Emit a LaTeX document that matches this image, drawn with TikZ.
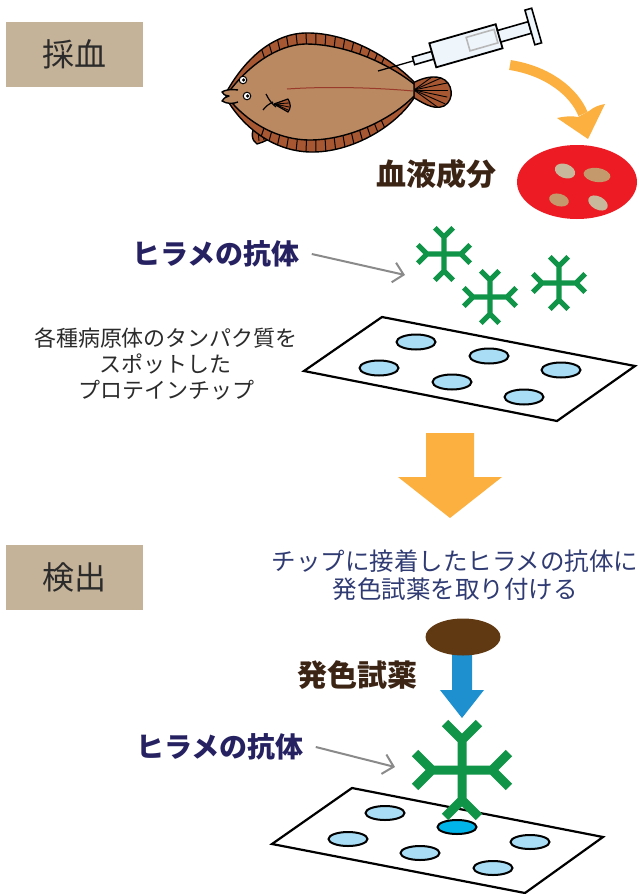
\documentclass[tikz,border=0pt]{standalone}
\usepackage{fontspec}
\newfontfamily\jp{Noto Sans CJK JP}
\usetikzlibrary{arrows.meta}

\definecolor{tanbox}{HTML}{C5B399}
\definecolor{darktext}{HTML}{2B2B2B}
\definecolor{navylabel}{HTML}{262262}
\definecolor{navytext}{HTML}{2F3B72}
\definecolor{browntext}{HTML}{3C2415}
\definecolor{abgreen}{HTML}{109447}
\definecolor{flowarrow}{HTML}{FBB040}
\definecolor{bloodred}{HTML}{ED1C24}
\definecolor{cellbeige}{HTML}{C8B89C}
\definecolor{celltan}{HTML}{C49A6C}
\definecolor{spotblue}{HTML}{A8DDF5}
\definecolor{spotlit}{HTML}{00B4EA}
\definecolor{reagent}{HTML}{603913}
\definecolor{dropblue}{HTML}{1E8FCF}
\definecolor{pointer}{HTML}{8A8A8A}
\definecolor{finbrown}{HTML}{A75732}
\definecolor{bodybrown}{HTML}{BA8861}
\definecolor{lateral}{HTML}{9A3A2A}
\definecolor{barrel}{HTML}{EEF6FC}

% outlines of the flatfish
\newcommand\fishouter{(226,93) .. controls (244,60) and (272,34) .. (305,33) .. controls (350,32) and (393,60) .. (414,82) -- (414,98) .. controls (396,126) and (352,153) .. (310,152) .. controls (272,151) and (242,126) .. (226,98) -- cycle}
\newcommand\fishinner{(228,93) .. controls (247,67) and (276,45) .. (305,44) .. controls (348,44) and (390,65) .. (414,84) -- (414,96) .. controls (393,118) and (350,140) .. (310,140) .. controls (276,140) and (246,121) .. (228,98) -- cycle}
\newcommand\fishtail{(411,84) .. controls (420,79) and (431,75) .. (441,78) .. controls (453,82) and (455,100) .. (444,106) .. controls (433,111) and (420,101) .. (411,96) -- cycle}

\tikzset{
  stepbox/.style={fill=tanbox, draw=none, minimum width=137pt, minimum height=65pt, inner sep=0pt,
    font=\jp\fontsize{32}{38}\selectfont, text=darktext},
  abname/.style={font=\jp\bfseries\fontsize{28}{32}\selectfont, text=navylabel, inner sep=0pt},
  bignote/.style={font=\jp\bfseries\fontsize{30}{34}\selectfont, text=browntext, inner sep=0pt},
  chipnote/.style={font=\jp\fontsize{22}{26}\selectfont, text=darktext, align=center, inner sep=0pt},
  stepnote/.style={font=\jp\fontsize{24.5}{28}\selectfont, text=navytext, align=center, inner sep=0pt},
  pointerarrow/.style={draw=pointer, line width=2pt, -{Straight Barb[length=10pt,width=20pt]}},
  chip/.style={fill=white, draw=black, line width=2.2pt, line join=miter},
  spot/.style={fill=spotblue, draw=black, line width=2pt},
  fishline/.style={draw=black, line width=1.4pt, line join=round},
  pics/antibody/.style n args={3}{code={
    \foreach \a in {0,90,180,270}{
      \begin{scope}[rotate=\a]
        \draw[abgreen, line width=#3, line join=miter]
          (0,0) -- (#1,0)
          ({#1+0.707*#2},{-0.707*#2}) -- (#1,0) -- ({#1+0.707*#2},{0.707*#2});
      \end{scope}
    }
  }},
}

\begin{document}
\begin{tikzpicture}[x=1pt,y=-1pt]
\useasboundingbox (0,0) rectangle (639,894);

% ---------- step labels ----------
\node[stepbox] (blood) at (74.5,54.5) {採血};
\node[stepbox] (detect) at (74.5,577.5) {検出};

% ---------- flatfish ----------
% pelvic fin and tail sit behind the body
\filldraw[fill=finbrown, fishline] (256,124) .. controls (250,133) and (252,141) .. (257,144) .. controls (264,142) and (270,139) .. (274,135) -- cycle;
\draw[line width=0.9pt] (258,130) -- (259,141) (262,131) -- (264,140) (266,132) -- (269,138);
\fill[finbrown] \fishtail;
\begin{scope}
  \clip \fishtail;
  \foreach \a in {-36,-24,...,40} \draw[line width=0.9pt] (414,90) -- ++(\a:34);
\end{scope}
\draw[fishline] \fishtail;
\fill[finbrown] \fishouter;
\begin{scope}
  \clip \fishouter;
  \foreach \x in {250,261,...,405} {
    \draw[line width=1pt] ({0.6*\x+126},92) -- (\x,15);
    \draw[line width=1pt] ({0.6*\x+126},92) -- (\x,170);
  }
\end{scope}
\draw[fishline] \fishouter;
\filldraw[fill=bodybrown, fishline] \fishinner;
% mouth
\filldraw[fill=bodybrown, fishline] (238,90) .. controls (230,89) and (225,90) .. (222,92) .. controls (224,95) .. (229,96) .. controls (224,98) .. (222,101) .. controls (227,104) and (233,104) .. (238,102);
% eyes
\filldraw[fill=white, draw=black, line width=1pt] (243,80) circle (3.8) (247,96) circle (3.8);
\fill (243.6,80) circle (1.8) (247.6,96) circle (1.8);
% lateral line
\draw[lateral, line width=1pt] (287,89) .. controls (330,86) and (380,88) .. (413,91);
% pectoral fin
\filldraw[fill=finbrown, fishline, line width=1.2pt] (274,104) -- (288,99) .. controls (291,104) and (291,108) .. (288,112) -- cycle;
\draw[line width=0.8pt] (275,104) -- (289,103) (275,104) -- (289,107) (275,104) -- (288,110);
\draw[line width=1.2pt] (266,94) .. controls (269,100) and (272,104) .. (276,107);
\draw[line width=1.2pt] (263,110) .. controls (266,106) and (269,104) .. (273,102);

% ---------- syringe ----------
\begin{scope}[shift={(378,71)}, rotate=16]
  \draw[line width=1.3pt] (0,0) -- (38,0);
  \filldraw[fill=barrel, draw=black, line width=1.6pt] (37,-4) rectangle (57,4);
  \filldraw[fill=barrel, draw=black, line width=1.8pt] (57,-12.5) rectangle (126,12.5);
  \draw[draw=black!28, line width=1.6pt] (94,-8) rectangle (123,6);
  \filldraw[fill=barrel, draw=black, line width=1.6pt] (126,-6) rectangle (158,6);
  \filldraw[fill=barrel, draw=black, line width=1.6pt] (158,-18) rectangle (165,18);
\end{scope}

% ---------- curved arrow to the blood sample ----------
\draw[flowarrow, line width=10pt] (510,65) .. controls (548,71) and (574,92) .. (583,114);
\fill[flowarrow] (588,139) -- (557,118) .. controls (566,116) and (573,116) .. (578,117) -- (589,111) .. controls (594,107) and (599,105) .. (605,104) -- cycle;

% ---------- blood components ----------
\fill[bloodred] (577,182) ellipse (60 and 37);
\fill[cellbeige, rotate around={-20:(565,171)}] (565,171) ellipse (10.5 and 7);
\fill[celltan, rotate around={-8:(597,175)}] (597,175) ellipse (13.5 and 7);
\fill[celltan, rotate around={-15:(559,200)}] (559,200) ellipse (10 and 6.2);
\fill[cellbeige, rotate around={-28:(598,203)}] (598,203) ellipse (10.5 and 6.5);
\node[bignote] (plasma) at (436,174) {血液成分};

% ---------- free antibodies ----------
\node[abname] (ablabel1) at (216,254) {ヒラメの抗体};
\pic at (444,254) {antibody={17}{13}{5.2pt}};
\pic at (490,297) {antibody={17}{13}{5.2pt}};
\pic at (559,283) {antibody={17}{13}{5.2pt}};
\coordinate (abtarget1) at (405,275);
\draw[pointerarrow] ([xshift=12pt]ablabel1.east) -- (abtarget1);

% ---------- protein chip ----------
\node[chipnote] (chiptext) at (166,364) {各種病原体のタンパク質を\\スポットした\\プロテインチップ};
\draw[chip] (382,317) -- (635,366) -- (557,421) -- (304,371) -- cycle;
\foreach \p in {(416,342),(489,356),(379,368),(452,382),(561,370),(524,397)}
  \draw[spot] \p ellipse (19.5 and 7.5);

% ---------- big down arrow ----------
\fill[flowarrow] (426,433) -- (474,433) -- (474,477) -- (502,477) -- (450,518) -- (398,477) -- (426,477) -- cycle;

% ---------- detection step ----------
\node[stepnote] (instr) at (455,575) {チップに接着したヒラメの抗体に\\発色試薬を取り付ける};

\fill[dropblue] (452,650) -- (472,650) -- (472,690) -- (484,690) -- (462,718) -- (440,690) -- (452,690) -- cycle;
\fill[reagent] (463,637) ellipse (37.5 and 18.5);
\node[bignote] (dye) at (357,675) {発色試薬};

\draw[chip] (352,788) -- (603,837) -- (525,893) -- (272,844) -- cycle;
\foreach \p in {(385,813),(348,839),(420,853),(530,842),(493,868)}
  \draw[spot] \p ellipse (19.5 and 7);
\draw[spot, fill=spotlit] (457,827) ellipse (19.5 and 7);

\node[abname] (ablabel2) at (220,747) {ヒラメの抗体};
\coordinate (abtarget2) at (395,767);
\draw[pointerarrow] ([xshift=12pt]ablabel2.east) -- (abtarget2);
\pic at (462,770) {antibody={30}{24}{9pt}};
\end{tikzpicture}
\end{document}
